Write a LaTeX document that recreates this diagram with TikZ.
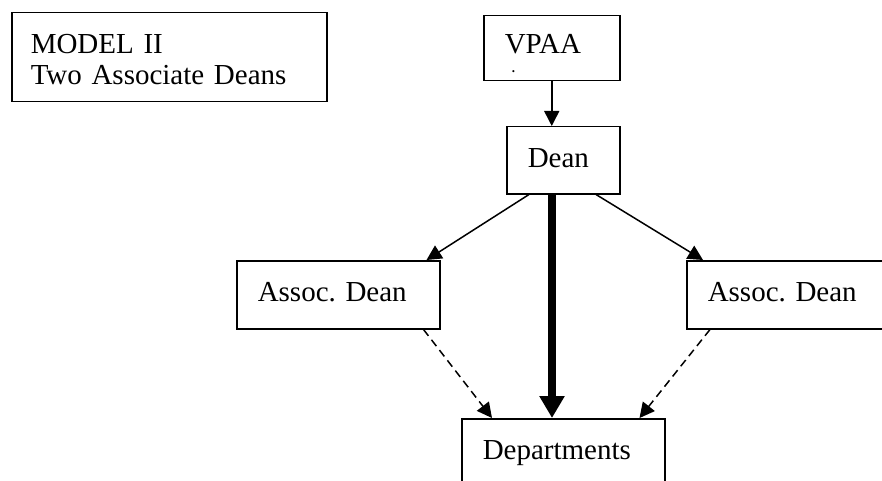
\documentclass[tikz,border=0pt]{standalone}
\usepackage{fontspec}
\setmainfont{Liberation Serif}
\frenchspacing
\usetikzlibrary{arrows.meta,calc}
\tikzset{
  box/.style={draw, line width=1.5pt, anchor=north west, align=left,
    inner ysep=0pt, inner xsep=21pt, text height=20pt, text depth=6pt,
    font=\fontsize{29}{31}\selectfont},
  thin/.style={line width=1.5pt, -{Triangle[length=15pt,width=15pt]}},
  thick/.style={line width=8pt, -{Triangle[length=22pt,width=24pt]}},
  dashline/.style={line width=1.5pt, dash pattern=on 8pt off 5pt, -{Triangle[length=15pt,width=15pt]}},
}
\begin{document}
\begin{tikzpicture}[x=1pt,y=-1pt]
\clip (0,0) rectangle (882,481);
\fill[white] (0,0) rectangle (882,481);
% title box
\node[box, minimum width=315pt, minimum height=89pt, inner xsep=19pt, text width=277pt, text height=22pt, text depth=29pt] (model) at (11,12) {MODEL II\\Two Associate Deans};
% VPAA (with the small dot on a second line)
\node[box, minimum width=136pt, minimum height=65pt, text width=94pt, text height=29pt, text depth=18pt] (vpaa) at (483,15) {VPAA\\[-12pt]{\fontsize{13}{13}\selectfont\bfseries\hspace*{7pt}.}};
% Dean
\node[box, minimum width=113pt, minimum height=67pt, text width=71pt] (dean) at (506,126) {Dean};
% Associate deans
\node[box, minimum width=203pt, minimum height=68pt, text width=161pt] (la) at (236,260) {Assoc. Dean};
\node[box, minimum width=203pt, minimum height=68pt, text width=161pt] (ra) at (686,260) {Assoc. Dean};
% Departments
\node[box, minimum width=203pt, minimum height=68pt, text width=161pt] (dept) at (461,418) {Departments};
% connectors
\draw[thin] (vpaa.south) -- (vpaa.south |- dean.north);
\draw[thin] ($(dean.south west)+(23,0)$) -- ($(la.north east)+(-14,0)$);
\draw[thin] ($(dean.south west)+(90,0)$) -- ($(ra.north west)+(17,0)$);
\draw[thick] ($(dean.south west)+(46,0)$) -- ($(dept.north west)+(91,0)$);
\draw[dashline] ($(la.south east)+(-17,0)$) -- ($(dept.north west)+(31,0)$);
\draw[dashline] ($(ra.south west)+(24,0)$) -- ($(dept.north east)+(-26,0)$);
\end{tikzpicture}
\end{document}
